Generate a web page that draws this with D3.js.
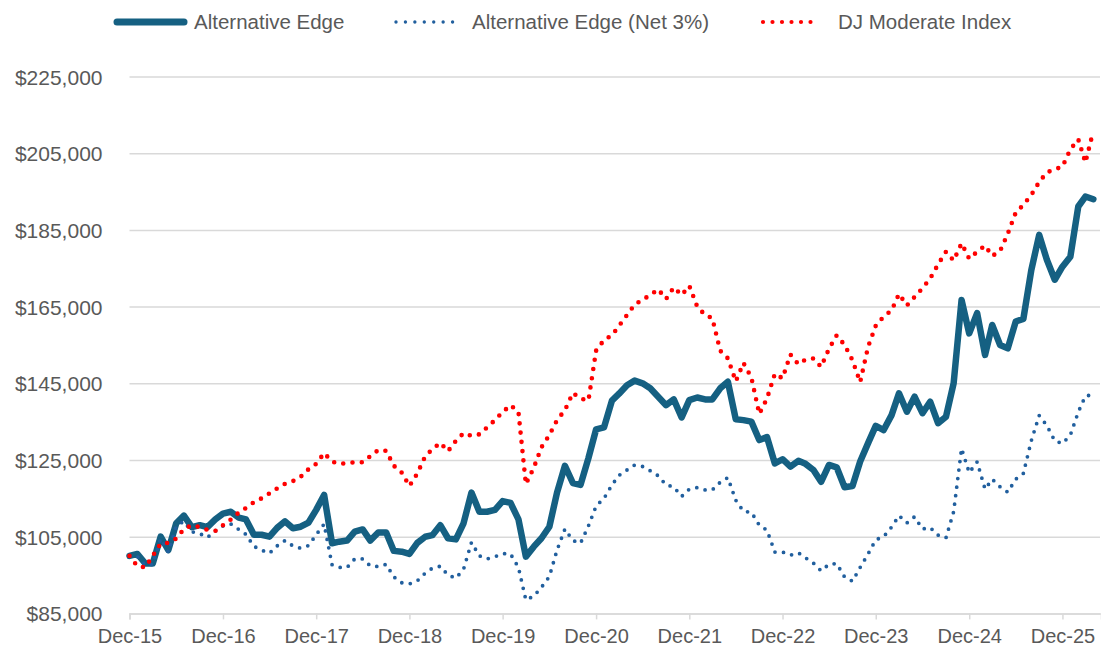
<!DOCTYPE html>
<html>
<head>
<meta charset="utf-8">
<script src="https://cdn.jsdelivr.net/npm/d3@7"></script>
<style>
  body { margin: 0; background: #fff; }
  text { font-family: "Liberation Sans", Arial, sans-serif; fill: #595959; }
</style>
</head>
<body>
<div id="chart"></div>
<script>
// monthly values, Dec-15 .. Apr-26, in $ thousands
const altEdge = [
  100.0, 100.5, 98.0, 98.0, 105.0, 101.5, 108.5, 110.5, 107.5, 108.0, 107.5, 109.5,
  111.0, 111.5, 110.0, 109.5, 105.5, 105.5, 105.0, 107.3, 109.0, 107.2, 107.6, 108.7,
  112.0, 115.9, 103.3, 103.7, 104.0, 106.3, 106.9, 104.0, 106.1, 106.1, 101.3, 101.1,
  100.5, 103.4, 105.0, 105.4, 108.0, 104.6, 104.3, 108.5, 116.5, 111.5, 111.5, 112.0,
  114.3, 113.8, 109.5, 99.8, 102.4, 104.6, 107.6, 116.5, 123.5, 119.0, 118.5, 125.5,
  133.0, 133.5, 140.5, 142.3, 144.5, 145.7, 145.0, 143.7, 141.5, 139.3, 140.8, 136.1,
  140.6, 141.3, 140.8, 140.8, 143.7, 145.4, 135.6, 135.4, 135.0, 130.2, 131.0, 124.1,
  125.2, 123.3, 124.8, 124.0, 122.4, 119.3, 123.7, 123.1, 117.9, 118.2, 124.6, 129.4,
  133.9, 132.8, 136.7, 142.4, 137.6, 141.5, 137.2, 140.2, 134.6, 136.3, 145.0, 166.7,
  158.0, 163.3, 152.4, 160.2, 155.0, 154.1, 161.1, 161.8, 174.5, 183.7, 177.2, 172.0,
  175.4, 178.0, 191.1, 193.7, 193.0
];
const altEdgeNet = [
  100.0, 99.8, 97.5, 97.8, 104.5, 101.0, 107.8, 109.0, 106.3, 105.8, 104.8, 106.5,
  107.8, 108.3, 106.9, 105.6, 102.5, 101.5, 100.7, 102.6, 104.0, 102.6, 102.0, 102.7,
  105.5, 108.3, 97.7, 97.0, 97.0, 99.2, 99.2, 97.4, 97.2, 97.8, 94.5, 93.0,
  92.7, 93.5, 95.5, 96.8, 97.3, 95.0, 94.2, 96.5, 103.5, 100.0, 99.2, 99.8,
  100.6, 100.5, 97.0, 88.5, 89.5, 91.8, 94.6, 101.5, 107.0, 104.0, 103.3, 107.8,
  113.0, 115.0, 118.5, 121.0, 122.4, 123.7, 123.3, 122.2, 120.9, 118.5, 118.0, 115.5,
  117.4, 117.8, 117.2, 117.2, 119.2, 120.4, 114.5, 111.6, 111.4, 108.0, 106.7, 101.0,
  101.0, 100.2, 100.8, 99.5, 98.1, 96.1, 97.8, 98.0, 94.5, 93.4, 97.0, 100.5,
  104.2, 105.0, 107.5, 110.5, 108.6, 110.2, 107.0, 107.4, 105.4, 104.7, 111.5, 128.0,
  121.7, 124.5, 117.4, 120.0, 118.0, 116.6, 120.0, 121.5, 130.0, 136.6, 134.0, 130.0,
  129.3, 131.5, 137.5, 141.7, 142.0
];
const djModerate = [
  100.0, 97.3, 97.0, 100.0, 103.2, 103.4, 104.5, 107.0, 108.0, 107.5, 106.8, 106.5,
  108.0, 109.5, 111.3, 112.5, 114.0, 115.0, 116.3, 117.6, 118.8, 119.5, 120.6, 122.6,
  124.0, 126.8, 124.6, 124.0, 124.2, 124.4, 124.4, 126.0, 127.6, 127.4, 123.5, 121.7,
  118.2, 121.5, 126.0, 127.8, 129.5, 127.3, 130.0, 132.0, 131.3, 131.7, 133.5, 135.4,
  137.5, 139.3, 137.5, 118.7, 123.0, 128.3, 131.5, 135.4, 138.0, 142.5, 141.0, 140.5,
  153.5, 156.3, 157.5, 160.0, 162.8, 165.5, 166.8, 168.0, 169.5, 167.0, 170.0, 168.0,
  170.4, 165.0, 162.8, 162.0, 153.5, 151.5, 145.5, 150.3, 146.5, 137.0, 141.0, 147.5,
  146.3, 152.5, 150.0, 151.2, 151.5, 149.3, 154.0, 157.5, 155.0, 151.0, 145.3, 154.5,
  160.0, 162.4, 164.0, 168.3, 165.3, 167.5, 169.8, 172.3, 176.0, 179.3, 177.0, 181.5,
  177.5, 179.3, 180.9, 178.2, 179.5, 184.0, 189.5, 191.5, 194.1, 197.5, 200.0, 200.8,
  201.5, 206.0, 208.6, 202.6, 210.8
];
const seriesNames = ['Alternative Edge', 'Alternative Edge (Net 3%)', 'DJ Moderate Index'];
const yTicks = [85, 105, 125, 145, 165, 185, 205, 225];
const xTickYears = [2015, 2016, 2017, 2018, 2019, 2020, 2021, 2022, 2023, 2024, 2025];

const width = 1101, height = 653;
const margin = { left: 129.5, right: 0, top: 76.5, bottom: 39.6 };

const months = d3.timeMonth.range(new Date(2015, 11, 1), new Date(2026, 4, 1));

const svg = d3.select('#chart').append('svg')
    .attr('width', width)
    .attr('height', height);

const xScale = d3.scaleTime()
    .domain([new Date(2015, 11, 1), new Date(2026, 4, 1)])
    .range([margin.left, width - margin.right]);

const yScale = d3.scaleLinear()
    .domain([85, 225])
    .range([height - margin.bottom, margin.top]);

// gridlines + y labels
const yAxis = d3.axisLeft(yScale)
    .tickValues(yTicks)
    .tickSize(-(width - margin.left - margin.right - 1))
    .tickPadding(27)
    .tickFormat(d => d3.format('$,')(d * 1000));

const yAxisG = svg.append('g')
    .attr('transform', `translate(${margin.left},0)`)
    .call(yAxis);
yAxisG.select('.domain').remove();
yAxisG.selectAll('line').attr('stroke', '#d9d9d9').attr('stroke-width', 1.5);
yAxisG.selectAll('text')
    .style('font-size', '21px')
    .attr('dy', '0.36em');

// x axis
const xAxis = d3.axisBottom(xScale)
    .tickValues(xTickYears.map(y => new Date(y, 11, 1)))
    .tickSize(6)
    .tickPadding(9)
    .tickFormat(d3.timeFormat('%b-%y'));

const xAxisG = svg.append('g')
    .attr('transform', `translate(0,${yScale(85)})`)
    .call(xAxis);
xAxisG.select('.domain').attr('stroke', '#d9d9d9').attr('stroke-width', 1.5);
xAxisG.selectAll('line').attr('stroke', '#d9d9d9').attr('stroke-width', 1.5);
xAxisG.selectAll('text').style('font-size', '20px');

const line = d3.line()
    .x((d, i) => xScale(months[i]))
    .y(d => yScale(d));

svg.append('path')
    .datum(altEdge)
    .attr('fill', 'none')
    .attr('stroke', '#156082')
    .attr('stroke-width', 6.5)
    .attr('stroke-linejoin', 'round')
    .attr('stroke-linecap', 'round')
    .attr('d', line);

svg.append('path')
    .datum(altEdgeNet)
    .attr('fill', 'none')
    .attr('stroke', '#215f9e')
    .attr('stroke-width', 3.8)
    .attr('stroke-dasharray', '0 8.6')
    .attr('stroke-linecap', 'round')
    .attr('d', line);

svg.append('path')
    .datum(djModerate)
    .attr('fill', 'none')
    .attr('stroke', '#ff0000')
    .attr('stroke-width', 4.6)
    .attr('stroke-dasharray', '0 9.3')
    .attr('stroke-linecap', 'round')
    .attr('d', line);

// legend
const legend = svg.append('g');
const legendY = 22;

legend.append('line')
    .attr('x1', 117).attr('x2', 184)
    .attr('y1', legendY).attr('y2', legendY)
    .attr('stroke', '#156082')
    .attr('stroke-width', 7)
    .attr('stroke-linecap', 'round');
legend.append('text')
    .attr('x', 194).attr('y', legendY)
    .attr('dy', '0.36em')
    .style('font-size', '20.5px')
    .text(seriesNames[0]);

legend.append('line')
    .attr('x1', 396).attr('x2', 462)
    .attr('y1', legendY).attr('y2', legendY)
    .attr('stroke', '#215f9e')
    .attr('stroke-width', 3.4)
    .attr('stroke-dasharray', '0 9.43')
    .attr('stroke-linecap', 'round');
legend.append('text')
    .attr('x', 472).attr('y', legendY)
    .attr('dy', '0.36em')
    .style('font-size', '20.5px')
    .text(seriesNames[1]);

legend.append('line')
    .attr('x1', 763).attr('x2', 820)
    .attr('y1', legendY).attr('y2', legendY)
    .attr('stroke', '#ff0000')
    .attr('stroke-width', 4.2)
    .attr('stroke-dasharray', '0 9.5')
    .attr('stroke-linecap', 'round');
legend.append('text')
    .attr('x', 838).attr('y', legendY)
    .attr('dy', '0.36em')
    .style('font-size', '20.5px')
    .text(seriesNames[2]);
</script>
</body>
</html>
